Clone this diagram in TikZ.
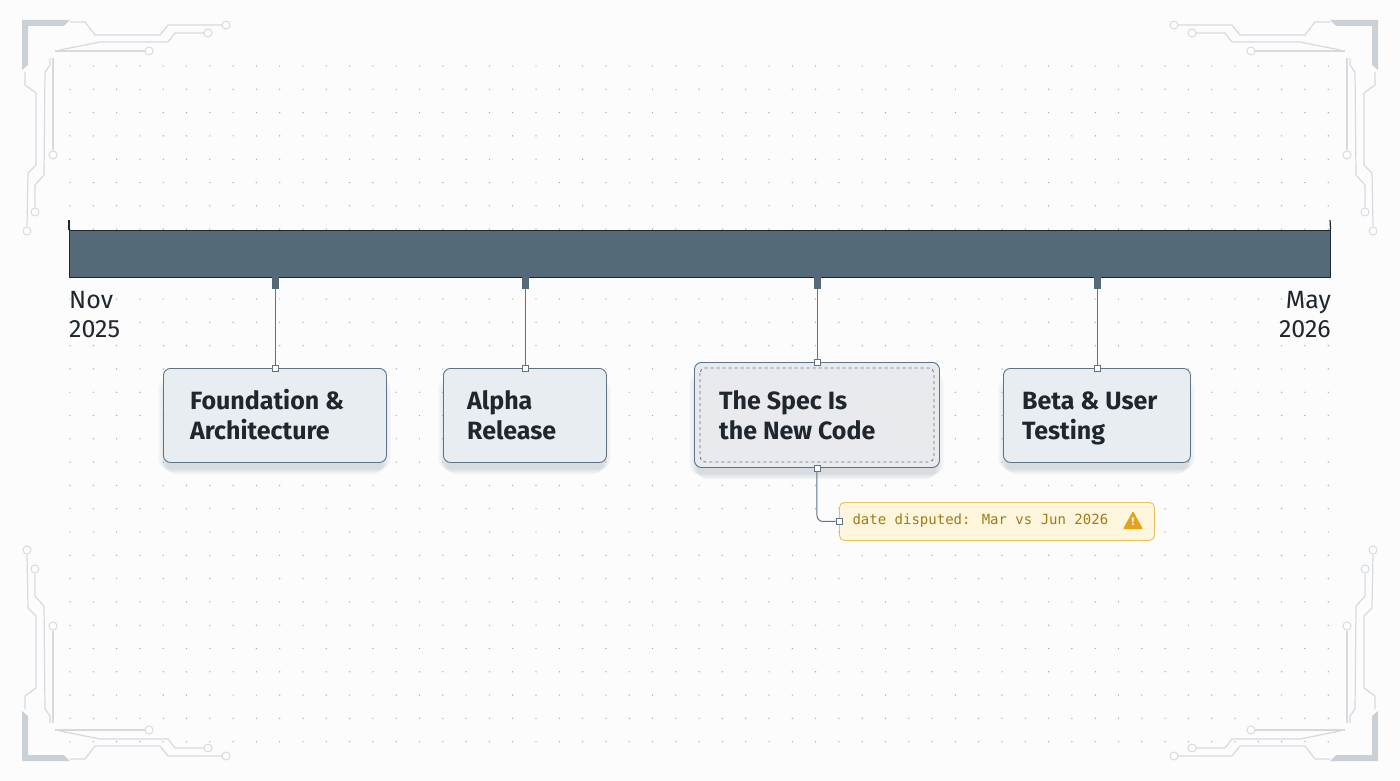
\documentclass[tikz,border=0pt]{standalone}
\usepackage{fontspec}
\setmainfont{Fira Sans}
\newfontfamily\monof{DejaVu Sans Mono}
\definecolor{barc}{HTML}{546A79}
\definecolor{boxfill}{HTML}{E8EDF2}
\definecolor{boxline}{HTML}{5E7385}
\definecolor{txt}{HTML}{1F262D}
\definecolor{deco}{HTML}{C9D0D6}
\definecolor{decol}{HTML}{D5DADF}
\definecolor{warnfill}{HTML}{FDF6DD}
\definecolor{warnline}{HTML}{E7C25C}
\definecolor{warntxt}{HTML}{A07A1A}
\definecolor{warnic}{HTML}{E6A21C}
\definecolor{shc}{HTML}{7A8A99}
\tikzset{
 ms/.style={draw=boxline,fill=boxfill,rounded corners=7pt,line width=0.9pt},
 mt/.style={text=txt,font=\fontsize{25}{30}\selectfont\bfseries,align=left,anchor=base west,inner sep=0pt},
 conn/.style={draw=boxline,line width=1pt},
 tick/.style={fill=barc,minimum width=7pt,minimum height=12pt,inner sep=0pt},
 port/.style={draw=boxline,fill=white,minimum size=6pt,inner sep=0pt,line width=0.7pt},
 dlab/.style={font=\fontsize{25}{29}\selectfont,text=txt,align=left,inner sep=0pt},
 dec/.style={draw=decol,line width=1.2pt},
 dot/.style={draw=decol,line width=1pt,fill=white}
}
\newcommand\softshadow[4]{% x1 y1 x2 y2
 \foreach \k in {1,...,8}{
  \fill[shc,opacity=0.035,rounded corners=10pt] (#1+\k*1.2-6,#2+10+\k*0.8) rectangle (#3-\k*1.2+6,#4+6+\k*0.8);}}
\begin{document}
\begin{tikzpicture}[x=1pt,y=-1pt]
\useasboundingbox (0,0) rectangle (1400,781);
\fill[white!98!gray] (0,0) rectangle (1400,781);
% dot grid
\foreach \i in {0,...,54}{\foreach \j in {0,...,29}{
 \fill[gray!70] (70+\i*23.3,66+\j*23.3) circle (0.7pt);}}
% corner decorations
\foreach \sx/\sy/\ox/\oy in {1/1/0/0,-1/1/1400/0,1/-1/0/781,-1/-1/1400/781}{
 \begin{scope}[shift={(\ox,\oy)},xscale=\sx,yscale=\sy]
 \fill[deco] (22,20) -- (70,20) -- (64,26) -- (28,26) -- (28,65) -- (22,70) -- cycle;
 \draw[dec] (70,22) -- (85,22) -- (95,35) -- (160,35) -- (168,25) -- (222,25);
 \draw[dot] (226,25) circle (4pt);
 \draw[dec] (60,50) -- (100,42) -- (168,42) -- (175,33) -- (204,33);
 \draw[dot] (208,33) circle (4pt);
 \draw[dec] (55,51) -- (145,51);
 \draw[dot] (149,51) circle (4pt);
 \draw[dec] (25,72) -- (25,85) -- (36,93) -- (36,165) -- (28,173) -- (27,226);
 \draw[dot] (27,231) circle (4pt);
 \draw[dec] (50,58) -- (50,65) -- (45,72) -- (44,175) -- (35,185) -- (35,207);
 \draw[dot] (35,212) circle (4pt);
 \draw[dec] (53,58) -- (53,150);
 \draw[dot] (53,155) circle (4pt);
 \end{scope}}
% bar
\node[fill=barc,draw=txt,line width=0.6pt,minimum width=1261pt,minimum height=47pt,inner sep=0pt,anchor=north west] (bar) at (69,230) {};
\coordinate (tl) at (69,220);
\draw[txt,line width=1.2pt] (tl) -- (bar.north west);
\coordinate (tr) at (1330,220);
\draw[txt,line width=1.2pt] (tr) -- (bar.north east);
\node[dlab,anchor=north west] (nov) at (69,291) {Nov\\2025};
\node[dlab,anchor=north east,align=right] (may) at (1331,291) {May\\2026};
% shadows
\softshadow{163}{368}{386}{462}
\softshadow{443}{368}{606}{462}
\softshadow{694}{362}{939}{467}
\softshadow{1003}{368}{1190}{462}
% boxes
\node[ms,minimum width=223pt,minimum height=94pt,anchor=north west] (b1) at (163,368) {};
\node[mt] (l1) at (190,439) {Foundation \&\\Architecture};
\node[ms,minimum width=163pt,minimum height=94pt,anchor=north west] (b2) at (443,368) {};
\node[mt] (l2) at (467,439) {Alpha\\Release};
\node[ms,fill=boxfill!85!gray!60,minimum width=245pt,minimum height=105pt,anchor=north west] (b3) at (694,362) {};
\draw[boxline,dashed,line width=0.8pt,rounded corners=5pt] ([shift={(6,6)}]b3.north west) rectangle ([shift={(-6,-6)}]b3.south east);
\node[mt] (l3) at (719,439) {The Spec Is\\the New Code};
\node[ms,minimum width=187pt,minimum height=94pt,anchor=north west] (b4) at (1003,368) {};
\node[mt] (l4) at (1022,439) {Beta \& User\\Testing};
% ticks and connectors
\foreach \n/\x in {1/275,2/525,3/817,4/1097}{
 \node[tick,anchor=north] (t\n) at (\x,277) {};
 \node[port] (p\n) at (t\n.south |- b\n.north) {};
 \draw[conn] (t\n.south) -- (p\n.north);
}
% warning
\node[draw=warnline,fill=warnfill,rounded corners=5pt,line width=0.9pt,minimum width=315pt,minimum height=38pt,anchor=north west] (w) at (839,502) {};
\node[anchor=west,text=warntxt,font=\monof\fontsize{14}{16}\selectfont] (wt) at (849,521) {date disputed: Mar vs Jun 2026};
\fill[warnic,rounded corners=1pt] (1133,511) -- (1143,529) -- (1123,529) -- cycle;
\node[text=white,font=\bfseries\fontsize{11}{11}\selectfont,inner sep=0pt] (ex) at (1133,522) {!};
\node[port] (pb3) at (b3.south) {};
\node[port] (pw) at (w.west) {};
\draw[conn,rounded corners=6pt] (pb3.south) |- (pw.west);
\end{tikzpicture}
\end{document}
